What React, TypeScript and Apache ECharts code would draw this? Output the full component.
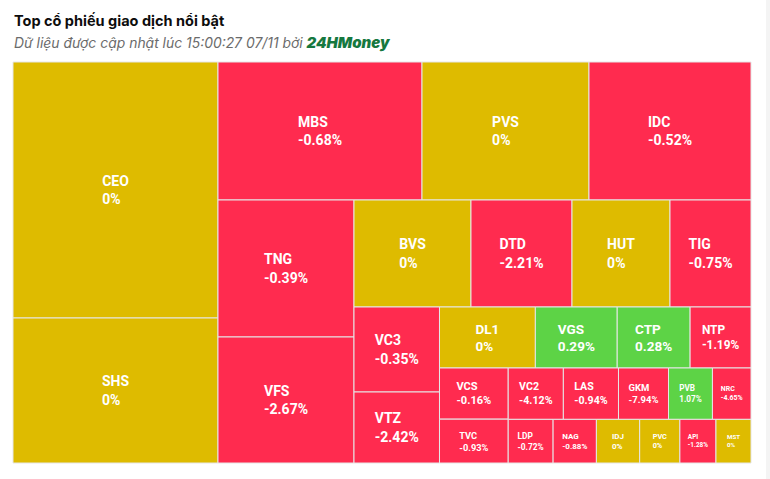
import React, { useEffect, useRef } from "react";
import * as echarts from "echarts";

// ---- Data ----
const tickers = [
  "CEO", "SHS", "MBS", "PVS", "IDC", "TNG", "VFS", "BVS", "DTD", "HUT",
  "TIG", "VC3", "VTZ", "DL1", "VGS", "CTP", "NTP", "VCS", "TVC", "VC2",
  "LAS", "GKM", "PVB", "NRC", "LDP", "NAG", "IDJ", "PVC", "API", "MST",
];
// relative trading weight (cell size)
const weights = [
  52480, 29725, 28152, 23046, 22356, 18632, 17136, 12519, 10807, 10486,
  8667, 7268, 6070, 5847, 4994, 4446, 3715, 3515, 3013, 2833,
  2833, 2570, 2256, 1981, 1959, 1889, 1889, 1754, 1574, 1529,
];
// price change, %
const changes = [
  0, 0, -0.68, 0, -0.52, -0.39, -2.67, 0, -2.21, 0,
  -0.75, -0.35, -2.42, 0, 0.29, 0.28, -1.19, -0.16, -0.93, -4.12,
  -0.94, -7.94, 1.07, -4.65, -0.72, -0.88, 0, 0, -1.28, 0,
];

const titleText = "Top cổ phiếu giao dịch nổi bật";
const subtitleText = "Dữ liệu được cập nhật lúc 15:00:27 07/11 bởi ";
const brandText = "24HMoney";

// ---- Layout constants ----
const PLOT_W = 738;
const PLOT_H = 401;

type Rect = { x: number; y: number; width: number; height: number };

// Squarified layout with alternating direction (vertical first)
function squarifiedLayout(values: number[], W: number, H: number): Rect[] {
  const total = values.reduce((a, b) => a + b, 0);
  const out: Rect[] = [];
  const parent = { x: 0, y: 0, width: W, height: H };
  const plot = { x: 0, y: 0 };
  const g: any = {
    height: H, width: W, direction: 0, total: 0,
    nW: 0, lW: 0, nH: 0, lH: 0, elArr: [] as number[],
    lP: { total: 0, lH: 0, nH: 0, lW: 0, nW: 0, nR: 0, lR: 0 },
  };
  const ar = (w: number, h: number) => Math.max(w / h, h / w);
  const add = (el: number) => {
    g.lP.total = g.elArr[g.elArr.length - 1];
    g.total += el;
    if (g.direction === 0) {
      g.lW = g.nW;
      g.lP.lH = g.lP.total / g.lW;
      g.lP.lR = ar(g.lW, g.lP.lH);
      g.nW = g.total / g.height;
      g.lP.nH = g.lP.total / g.nW;
      g.lP.nR = ar(g.nW, g.lP.nH);
    } else {
      g.lH = g.nH;
      g.lP.lW = g.lP.total / g.lH;
      g.lP.lR = ar(g.lP.lW, g.lH);
      g.nH = g.total / g.width;
      g.lP.nW = g.lP.total / g.nH;
      g.lP.nR = ar(g.lP.nW, g.nH);
    }
    g.elArr.push(el);
  };
  const calc = (last: boolean) => {
    let gW = g.lW;
    let gH = g.lH;
    let keep: number | undefined;
    const end = g.elArr.length - 1;
    if (last) {
      gW = g.nW;
      gH = g.nH;
    } else {
      keep = g.elArr[end];
    }
    g.elArr.forEach((p: number, i: number) => {
      if (last || i < end) {
        let pW: number;
        let pH: number;
        if (g.direction === 0) {
          pW = gW;
          pH = p / pW;
        } else {
          pH = gH;
          pW = p / pH;
        }
        out.push({ x: plot.x, y: plot.y, width: pW, height: pH });
        if (g.direction === 0) plot.y += pH;
        else plot.x += pW;
      }
    });
    g.nW = 0;
    g.lW = 0;
    g.elArr = [];
    g.total = 0;
    if (g.direction === 0) g.width -= gW;
    else g.height -= gH;
    plot.y = parent.y + (parent.height - g.height);
    plot.x = parent.x + (parent.width - g.width);
    g.direction = 1 - g.direction;
    if (!last) add(keep as number);
  };
  values.forEach((v, i) => {
    add((W * H * v) / total);
    if (g.lP.nR > g.lP.lR) calc(false);
    if (i === values.length - 1) calc(true);
  });
  return out;
}

const COLOR_UP = "#5DD346";
const COLOR_DOWN = "#FF2B4F";
const COLOR_FLAT = "#DEBB00";

function colorFor(v: number) {
  if (v > 0) return COLOR_UP;
  if (v < 0) return COLOR_DOWN;
  return COLOR_FLAT;
}

function fmt(v: number) {
  return `${v}%`;
}

function fontFor(w: number, h: number) {
  const f = Math.min(0.22 * w - 1.5, 0.25 * h - 1.7);
  return Math.max(5, Math.min(14, f));
}

export default function App() {
  const ref = useRef<HTMLDivElement>(null);

  useEffect(() => {
    if (!ref.current) return;
    const chart = echarts.init(ref.current, undefined, { renderer: "svg" });
    const layout = squarifiedLayout(weights, PLOT_W, PLOT_H);

    chart.setOption({
      animation: false,
      backgroundColor: "#ffffff",
      graphic: [
        {
          type: "text",
          left: 14,
          top: 13,
          style: {
            text: titleText,
            fontFamily: "Inter",
            fontWeight: "bold",
            fontSize: 14.5,
            fill: "#0d0d0d",
          },
        },
        {
          type: "text",
          left: 14,
          top: 35,
          style: {
            text: `{a|${subtitleText}}{b|${brandText}}`,
            rich: {
              a: {
                fontFamily: "Inter",
                fontStyle: "italic",
                fontSize: 13.9,
                fill: "#6b6b6b",
                verticalAlign: "bottom",
                lineHeight: 16,
              },
              b: {
                fontFamily: "Inter",
                fontStyle: "italic",
                fontWeight: 900,
                fontSize: 15,
                fill: "#16783F",
                verticalAlign: "bottom",
                lineHeight: 16,
              },
            },
          },
        },
        {
          type: "rect",
          shape: { x: 766, y: 0, width: 4, height: 479 },
          style: { fill: "#f4f4f4" },
        },
      ],
      grid: { left: 13, top: 62, width: PLOT_W, height: PLOT_H },
      xAxis: { type: "value", min: 0, max: PLOT_W, show: false },
      yAxis: { type: "value", min: 0, max: PLOT_H, inverse: true, show: false },
      series: [
        {
          type: "custom",
          clip: false,
          data: weights.map((w, i) => [i, w]),
          renderItem: (params: any, api: any) => {
            const i = params.dataIndex;
            const r = layout[i];
            const p0 = api.coord([r.x, r.y]);
            const p1 = api.coord([r.x + r.width, r.y + r.height]);
            const x = Math.min(p0[0], p1[0]);
            const y = Math.min(p0[1], p1[1]);
            const w = Math.abs(p1[0] - p0[0]);
            const h = Math.abs(p1[1] - p0[1]);
            const fs = fontFor(w, h);
            const lh = fs * 1.29;
            return {
              type: "group",
              children: [
                {
                  type: "rect",
                  shape: { x, y, width: w, height: h },
                  style: { fill: colorFor(changes[i]), stroke: "#e6e6e6", lineWidth: 1 },
                },
                {
                  type: "text",
                  x: x + w / 2,
                  y: y + h / 2,
                  style: {
                    text: `{l|${tickers[i]}}\n{l|${fmt(changes[i])}}`,
                    align: "center",
                    verticalAlign: "middle",
                    fontFamily: "Roboto",
                    fontWeight: "bold",
                    fontSize: fs,
                    lineHeight: lh,
                    fill: "#ffffff",
                    rich: {
                      l: {
                        align: "left",
                        fontFamily: "Roboto",
                        fontWeight: "bold",
                        fontSize: fs,
                        lineHeight: lh,
                        fill: "#ffffff",
                      },
                    },
                  },
                },
              ],
            };
          },
        },
      ],
    });

    return () => chart.dispose();
  }, []);

  return (
    <div
      ref={ref}
      style={{ position: "absolute", left: 0, top: 0, width: 770, height: 479, background: "#fff" }}
    />
  );
}
